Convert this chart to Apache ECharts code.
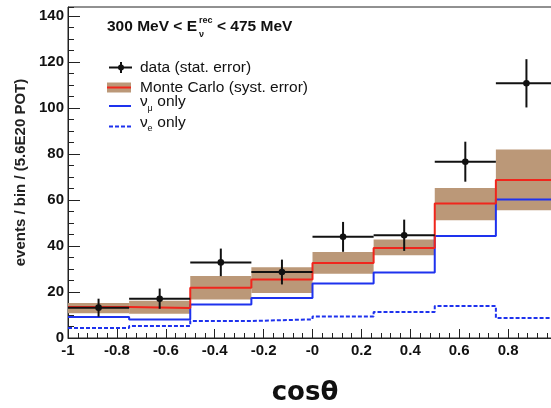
<!DOCTYPE html>
<html><head><meta charset="utf-8">
<script src="https://cdn.jsdelivr.net/npm/echarts@6/dist/echarts.min.js"></script>
<style>html,body{margin:0;padding:0;background:#fff}#c{width:551px;height:408px}</style>
</head><body><div id="c"></div>
<script>
// ---- data ----
const binEdges    = [-1, -0.75, -0.5, -0.25, 0, 0.25, 0.5, 0.75, 1];
const dataValues  = [13.2, 17.1, 32.9, 28.7, 44.0, 44.7, 76.7, 110.8];
const dataErrors  = [3.9, 4.4, 6.0, 5.4, 6.5, 6.8, 8.7, 10.5];
const mcValues    = [13.5, 13.0, 21.9, 25.4, 32.6, 39.2, 58.5, 68.7];
const mcLow       = [10.8, 10.5, 16.8, 19.6, 28.0, 36.0, 51.2, 55.6];
const mcHigh      = [15.2, 16.2, 27.0, 30.8, 37.4, 42.8, 65.3, 82.0];
const numuValues  = [9.1, 8.0, 14.6, 17.4, 23.7, 28.5, 44.4, 60.3];
const nueValues   = [4.3, 5.2, 7.4, 8.1, 9.4, 11.3, 13.9, 8.7];
const xTickValues = [-1, -0.8, -0.6, -0.4, -0.2, 0, 0.2, 0.4, 0.6, 0.8, 1];
const xTickLabels = ['-1', '-0.8', '-0.6', '-0.4', '-0.2', '-0', '0.2', '0.4', '0.6', '0.8', ''];
const yTickLabels = ['0', '20', '40', '60', '80', '100', '120', '140'];

const BAND = '#bb9878', RED = '#f0261c', BLUE = '#1e32ee', BLACK = '#111';
const FONT = 'Liberation Sans, Arial, sans-serif';

function stepData(vals) {
  const d = vals.map((v, i) => [binEdges[i], v]);
  d.push([binEdges[binEdges.length - 1], vals[vals.length - 1]]);
  return d;
}

const chart = echarts.init(document.getElementById('c'), null, {renderer: 'canvas'});
const option = {
  animation: false,
  backgroundColor: '#fff',
  grid: {left: 68, right: -6, top: 7, bottom: 70, show: true, borderColor: '#222', borderWidth: 1,
         backgroundColor: 'transparent', containLabel: false, outerBoundsMode: 'none'},
  xAxis: {
    type: 'value', min: -1, max: 1, interval: 0.2,
    axisLine: {show: true, onZero: false, lineStyle: {color: '#222', width: 1}},
    axisTick: {show: true, inside: true, length: 9, lineStyle: {color: '#222', width: 1}},
    minorTick: {show: true, splitNumber: 5, length: 5, lineStyle: {color: '#222', width: 1}},
    splitLine: {show: false}, minorSplitLine: {show: false},
    axisLabel: {
      show: true, margin: 5, fontSize: 15, fontWeight: 'bold', color: BLACK, fontFamily: FONT,
      showMinLabel: true, showMaxLabel: true,
      formatter: v => {
        const i = xTickValues.findIndex(t => Math.abs(t - v) < 1e-6);
        return i >= 0 ? xTickLabels[i] : '';
      }
    }
  },
  yAxis: [{
    type: 'value', min: 0, max: 144, interval: 20,
    axisLine: {show: true, onZero: false, lineStyle: {color: '#222', width: 1}},
    axisTick: {show: true, inside: true, length: 12, lineStyle: {color: '#222', width: 1}},
    splitLine: {show: false},
    axisLabel: {
      show: true, margin: 4, fontSize: 15, fontWeight: 'bold', color: BLACK, fontFamily: FONT,
      showMaxLabel: false,
      formatter: v => { const s = String(Math.round(v)); return yTickLabels.includes(s) && Math.abs(v - Math.round(v)) < 1e-6 ? s : ''; }
    },
    name: 'events / bin / (5.6E20 POT)', nameLocation: 'middle', nameGap: 31, nameRotate: 90,
    nameTextStyle: {fontSize: 15, fontWeight: 'bold', color: '#222', fontFamily: FONT}
  }, {
    type: 'value', min: 0, max: 144, interval: 5, position: 'left', offset: 0,
    axisLine: {show: false, onZero: false},
    axisTick: {show: true, inside: true, length: 6, lineStyle: {color: '#222', width: 1}},
    axisLabel: {show: false}, splitLine: {show: false}
  }],
  series: [
    {
      type: 'custom', name: 'MC band', z: 1,
      data: mcLow.map((lo, i) => [binEdges[i], binEdges[i + 1], lo, mcHigh[i]]),
      encode: {x: [0, 1], y: [2, 3]},
      renderItem: (params, api) => {
        const p0 = api.coord([api.value(0), api.value(3)]);
        const p1 = api.coord([api.value(1), api.value(2)]);
        return {type: 'rect', shape: {x: p0[0], y: p0[1], width: p1[0] - p0[0], height: p1[1] - p0[1]},
                style: {fill: BAND}};
      }
    },
    {type: 'line', name: 'nue', step: 'end', symbol: 'none', z: 2, data: stepData(nueValues),
     lineStyle: {color: BLUE, width: 2, type: [4, 2]}},
    {type: 'line', name: 'numu', step: 'end', symbol: 'none', z: 3, data: stepData(numuValues),
     lineStyle: {color: BLUE, width: 2}},
    {type: 'line', name: 'mc', step: 'end', symbol: 'none', z: 4, data: stepData(mcValues),
     lineStyle: {color: RED, width: 2}},
    {
      type: 'custom', name: 'data', z: 5,
      data: dataValues.map((v, i) => [binEdges[i], binEdges[i + 1], (binEdges[i] + binEdges[i + 1]) / 2, v, dataErrors[i]]),
      encode: {x: [0, 1], y: [3]},
      renderItem: (params, api) => {
        const x0 = api.value(0), x1 = api.value(1), xc = api.value(2), v = api.value(3), e = api.value(4);
        const a = api.coord([x0, v]), b = api.coord([x1, v]);
        const t = api.coord([xc, v + e]), bo = api.coord([xc, v - e]), c = api.coord([xc, v]);
        const st = {stroke: BLACK, lineWidth: 2};
        return {type: 'group', children: [
          {type: 'line', shape: {x1: a[0], y1: a[1], x2: b[0], y2: b[1]}, style: st},
          {type: 'line', shape: {x1: t[0], y1: t[1], x2: bo[0], y2: bo[1]}, style: st},
          {type: 'circle', shape: {cx: c[0], cy: c[1], r: 3.3}, style: {fill: BLACK}}
        ]};
      }
    }
  ],
  graphic: [
    // title
    {type: 'text', left: 107, top: 19, z: 100, style: {text: '300 MeV < E', font: 'bold 15.5px ' + FONT, fill: BLACK}},
    {type: 'text', left: 199, top: 16, z: 100, style: {text: 'rec', font: 'bold 9px ' + FONT, fill: BLACK}},
    {type: 'text', left: 199, top: 30, z: 100, style: {text: 'ν', font: 'bold 9px ' + FONT, fill: BLACK}},
    {type: 'text', left: 217, top: 19, z: 100, style: {text: '< 475 MeV', font: 'bold 15.5px ' + FONT, fill: BLACK}},
    // legend: data
    {type: 'line', z: 100, shape: {x1: 109, y1: 67.5, x2: 132, y2: 67.5}, style: {stroke: BLACK, lineWidth: 2}},
    {type: 'line', z: 100, shape: {x1: 121, y1: 62, x2: 121, y2: 73}, style: {stroke: BLACK, lineWidth: 2}},
    {type: 'circle', z: 100, shape: {cx: 121, cy: 67.5, r: 3}, style: {fill: BLACK}},
    {type: 'text', z: 100, x: 140, y: 68, style: {text: 'data (stat. error)', font: '15.5px ' + FONT, fill: BLACK, verticalAlign: 'middle'}},
    // legend: MC
    {type: 'rect', z: 100, shape: {x: 107, y: 82.5, width: 24, height: 10}, style: {fill: BAND}},
    {type: 'line', z: 101, shape: {x1: 107, y1: 87.5, x2: 131, y2: 87.5}, style: {stroke: RED, lineWidth: 2}},
    {type: 'text', z: 100, x: 140, y: 87.5, style: {text: 'Monte Carlo (syst. error)', font: '15.5px ' + FONT, fill: BLACK, verticalAlign: 'middle'}},
    // legend: numu
    {type: 'line', z: 100, shape: {x1: 109, y1: 106, x2: 131, y2: 106}, style: {stroke: BLUE, lineWidth: 2}},
    {type: 'text', z: 100, x: 140, y: 101.5, style: {text: 'ν', font: '15.5px ' + FONT, fill: BLACK, verticalAlign: 'middle'}},
    {type: 'text', z: 100, x: 147.5, y: 108.5, style: {text: 'μ', font: '9px ' + FONT, fill: BLACK, verticalAlign: 'middle'}},
    {type: 'text', z: 100, x: 153, y: 101.5, style: {text: ' only', font: '15.5px ' + FONT, fill: BLACK, verticalAlign: 'middle'}},
    // legend: nue
    {type: 'line', z: 100, shape: {x1: 109, y1: 126.5, x2: 131, y2: 126.5}, style: {stroke: BLUE, lineWidth: 2, lineDash: [4, 2]}},
    {type: 'text', z: 100, x: 140, y: 123, style: {text: 'ν', font: '15.5px ' + FONT, fill: BLACK, verticalAlign: 'middle'}},
    {type: 'text', z: 100, x: 147.5, y: 129, style: {text: 'e', font: '9px ' + FONT, fill: BLACK, verticalAlign: 'middle'}},
    {type: 'text', z: 100, x: 153, y: 123, style: {text: ' only', font: '15.5px ' + FONT, fill: BLACK, verticalAlign: 'middle'}},
    // x-axis title
    {type: 'text', z: 100, x: 305, y: 393, style: {text: 'cosθ', font: 'bold 26px DejaVu Sans, sans-serif', fill: BLACK, align: 'center', verticalAlign: 'middle'}}
  ]
};
chart.setOption(option);
</script>
</body></html>
